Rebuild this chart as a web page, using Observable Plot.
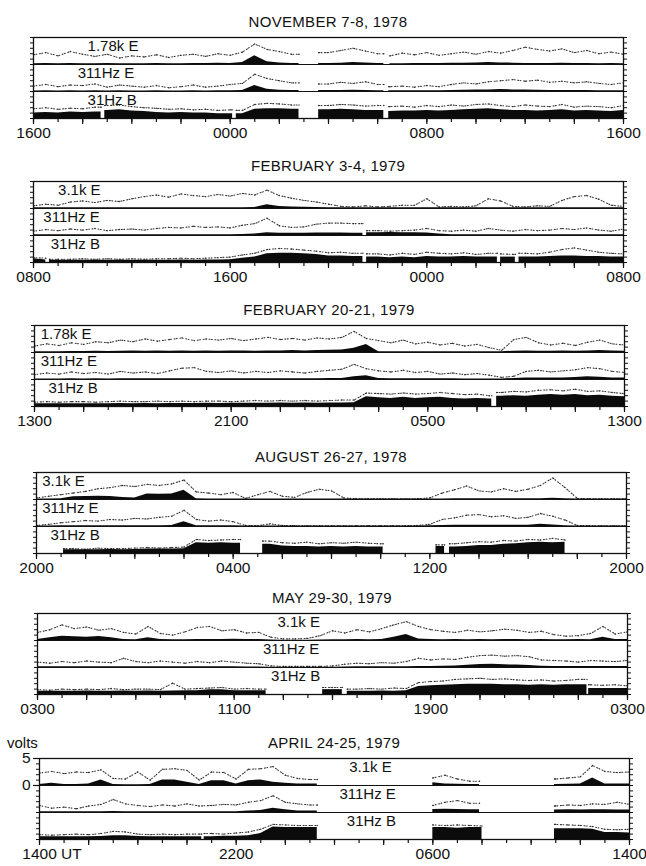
<!DOCTYPE html>
<html>
<head>
<meta charset="utf-8">
<script src="https://cdn.jsdelivr.net/npm/d3@7"></script>
<script src="https://cdn.jsdelivr.net/npm/@observablehq/plot@0.6"></script>
<style>
  body { margin: 0; background: #fff; }
  #page { position: relative; width: 646px; height: 866px; font-family: "Liberation Sans", Arial, Helvetica, sans-serif; color: #111; }
  .title { position: absolute; width: 590px; text-align: center; font-size: 15px; letter-spacing: 0.3px; line-height: 18px; }
  .panel { position: absolute; left: 0; }
  .units { position: absolute; left: 7px; font-size: 15px; line-height: 18px; }
</style>
</head>
<body>
<div id="page"></div>
<script>
// Each series holds one reading per half hour (49 samples over the 24-hour
// window, hour 0 = first axis label). Levels are in volts (0-5 per strip).
// "peak" = dotted upper trace, "mean" = solid black fill; null = no data.
// "cover" lists the [start, end] hours during which the channel recorded.

const titles = ["NOVEMBER 7-8, 1978", "FEBRUARY 3-4, 1979", "FEBRUARY 20-21, 1979",
                "AUGUST 26-27, 1978", "MAY 29-30, 1979", "APRIL 24-25, 1979"];

const channels_178 = ["1.78k E", "311Hz E", "31Hz B"];
const channels_31 = ["3.1k E", "311Hz E", "31Hz B"];

const nov78_ticks = ["1600", "0000", "0800", "1600"];
const feb79a_ticks = ["0800", "1600", "0000", "0800"];
const feb79b_ticks = ["1300", "2100", "0500", "1300"];
const aug78_ticks = ["2000", "0400", "1200", "2000"];
const may79_ticks = ["0300", "1100", "1900", "0300"];
const apr79_ticks = ["1400 UT", "2200", "0600", "1400"];

// ---- November 7-8, 1978 ----
const nov78_hiE_peak = [1.8,2.2,1.6,2.4,1.9, 1.5,1.9,1.2,1.6, 1.4,1.8,1.3,1.7, 1.9,1.5,2.0,1.7, 2.3,3.8,2.8,2.4,1.9, null,null, 2.2,2.6,3.0,2.5,2.0, 1.6,2.1,1.8,2.2, 1.7,2.0,2.3,1.9, 2.4,2.1,2.6,3.2, 2.8,2.5,2.9,2.2, 2.6,2.0,2.3,1.9];
const nov78_hiE_mean = [0.15,0.2,0.15,0.2,0.15, 0.15,0.2,0.15,0.15, 0.15,0.2,0.15,0.15, 0.2,0.2,0.25,0.2, 0.35,1.6,0.5,0.3,0.2, null,null, 0.2,0.25,0.35,0.3,0.2, 0.15,0.15,0.2,0.2, 0.2,0.25,0.25,0.3, 0.35,0.3,0.25,0.2, 0.2,0.2,0.25,0.2, 0.2,0.15,0.2,0.15];
const nov78_hiE_cover = [[0, 10.8], [11.6, 14.25], [14.5, 24]];
const nov78_midE_peak = [1.0,1.3,0.9,1.2,1.1, 1.4,0.8,1.2,1.0, 0.8,1.1,0.7,0.9, 1.2,0.8,1.0,1.3, 1.5,3.2,2.4,2.0,1.6, null,null, 1.4,1.7,1.5,1.8,1.3, 0.9,1.0,0.8,1.1, 0.9,1.3,1.6,1.4, 1.8,2.0,2.2,1.9, 2.1,1.7,1.9,1.6, 1.8,1.5,1.3,1.6];
const nov78_midE_mean = [0.1,0.12,0.1,0.12,0.1, 0.12,0.1,0.12,0.1, 0.1,0.12,0.1,0.1, 0.12,0.1,0.12,0.15, 0.2,1.1,0.4,0.25,0.2, null,null, 0.2,0.2,0.25,0.2,0.15, 0.12,0.12,0.15,0.15, 0.15,0.2,0.25,0.3, 0.3,0.35,0.3,0.3, 0.25,0.2,0.2,0.2, 0.2,0.15,0.15,0.12];
const nov78_midE_cover = [[0, 10.8], [11.6, 14.25], [14.45, 24]];
const nov78_B_peak = [1.8,2.0,1.7,1.9,1.8, 2.1,2.4,2.5,2.2, 2.0,1.9,1.7,1.8, 1.6,1.7,1.5,1.6, 1.5,2.6,2.8,2.7,2.5, null,null, 2.4,2.6,2.5,2.3,2.4, 2.2,2.3,2.1,2.4, 2.2,2.5,2.3,2.6, 2.7,2.4,2.2,2.5, 2.3,2.2,2.6,2.1, 2.3,2.2,2.0,2.4];
const nov78_B_mean = [1.0,1.1,1.0,1.2,1.1, 1.2,1.5,1.6,1.4, 1.3,1.1,1.0,1.1, 1.0,1.0,0.9,0.9, 0.9,1.7,1.8,1.8,1.7, null,null, 1.6,1.7,1.6,1.5,1.5, 1.3,1.4,1.4,1.5, 1.4,1.5,1.6,1.7, 1.8,1.6,1.5,1.5, 1.4,1.5,1.6,1.4, 1.5,1.4,1.3,1.5];
const nov78_B_cover = [[0, 2.75], [2.9, 8.1], [8.25, 10.8], [11.6, 14.25], [14.45, 24]];

// ---- February 3-4, 1979 ----
const feb79a_hiE_peak = [0.5,0.8,0.6,1.2,1.4, 1.1,1.5,1.3,1.8, 2.2,2.5,2.1,2.7, 2.4,2.2,2.6,2.3, 2.8,2.5,3.4,2.4,1.9, 1.5,1.2,0.8,0.4,0.3, 0.5,0.3,0.4,0.6, 0.6,1.8,0.3,0.4, 0.3,0.5,1.8,1.4, 0.4,0.3,0.5,0.4, 1.5,2.2,2.4,1.7, 0.6,0.4];
const feb79a_hiE_mean = [0.12,0.12,0.12,0.12,0.12, 0.12,0.12,0.12,0.15, 0.15,0.15,0.15,0.15, 0.15,0.15,0.15,0.15, 0.15,0.2,0.7,0.35,0.3, 0.25,0.2,0.15,0.12,0.12, 0.12,0.12,0.12,0.12, 0.12,0.15,0.12,0.12, 0.12,0.12,0.15,0.15, 0.12,0.12,0.12,0.12, 0.15,0.15,0.15,0.15, 0.12,0.12];
const feb79a_hiE_cover = [[0, 24]];
const feb79a_midE_peak = [0.8,1.1,0.9,1.2,1.0, 1.3,0.9,1.1,1.2, 1.0,1.3,1.5,1.4, 1.7,1.5,1.6,1.4, 1.9,2.2,3.2,1.8,1.5, 1.6,2.1,2.3,2.3,2.2, null,0.9,0.8,0.9, 1.0,1.3,0.9,0.8, 1.0,0.8,1.3,1.0, 0.8,1.1,0.9,1.0, 1.3,1.1,1.4,1.0, 0.8,1.2];
const feb79a_midE_mean = [0.12,0.12,0.12,0.12,0.12, 0.12,0.12,0.12,0.12, 0.12,0.12,0.12,0.12, 0.12,0.12,0.12,0.15, 0.2,0.3,0.5,0.4,0.4, 0.4,0.45,0.45,0.45,0.4, null,0.5,0.55,0.5, 0.5,0.45,0.3,0.15, 0.15,0.15,0.15,0.15, 0.15,0.15,0.15,0.15, 0.15,0.15,0.15,0.15, 0.15,0.15];
const feb79a_midE_cover = [[0, 13.4], [13.55, 24]];
const feb79a_B_peak = [0.9,0.8,0.6,0.6,0.7, 0.6,0.7,0.6,0.7, 0.6,0.7,0.7,0.8, 0.7,0.8,0.9,1.0, 1.4,1.7,2.4,2.6,2.5, 2.3,2.1,1.8,1.9,1.7, null,1.6,1.4,1.7, 1.5,1.9,1.7,1.6, 1.8,1.5,1.7,1.6, 1.5,1.7,1.6,1.9, 2.4,2.7,2.3,1.9, 1.7,1.6];
const feb79a_B_mean = [0.7,0.45,0.4,0.4,0.4, 0.4,0.4,0.4,0.4, 0.4,0.4,0.4,0.45, 0.4,0.45,0.45,0.5, 0.8,1.0,1.6,1.7,1.7, 1.6,1.5,1.2,1.2,1.1, null,1.0,0.9,1.0, 0.9,1.1,1.0,1.0, 1.1,1.0,1.0,1.0, 1.0,1.0,1.0,1.1, 1.2,1.2,1.1,1.1, 1.0,1.0];
const feb79a_B_cover = [[0, 0.5], [0.65, 13.4], [13.55, 18.87], [19.0, 19.6], [19.75, 24]];

// ---- February 20-21, 1979 ----
const feb79b_hiE_peak = [1.2,1.6,1.3,1.8,1.5, 2.0,1.8,2.3,2.0, 2.5,2.1,2.4,2.7, 2.2,2.5,2.3,2.6, 2.2,2.5,2.8,2.4,2.6, 2.3,2.7,2.5,2.8,3.9, 2.6,2.2,1.8,2.3, 1.6,1.9,1.4,1.7, 1.2,1.5,0.9,0.4, 2.4,2.8,1.8,1.4, 1.7,1.3,1.9,2.3, 1.6,1.4];
const feb79b_hiE_mean = [0.15,0.15,0.15,0.2,0.2, 0.25,0.2,0.25,0.3, 0.25,0.3,0.25,0.3, 0.25,0.3,0.25,0.3, 0.3,0.25,0.3,0.3,0.35, 0.3,0.35,0.4,0.45,0.8, 1.5,0.15,0.15,0.15, 0.15,0.15,0.15,0.15, 0.15,0.15,0.15,0.15, 0.25,0.3,0.25,0.25, 0.3,0.25,0.3,0.35, 0.3,0.25];
const feb79b_hiE_cover = [[0, 24]];
const feb79b_midE_peak = [0.9,1.2,1.0,1.4,1.1, 1.3,1.0,1.5,1.2, 1.4,1.1,1.6,2.1, 2.2,1.5,1.3,1.6, 1.2,1.5,1.3,1.6,1.4, 1.2,1.5,1.7,1.9,2.8, 2.0,1.6,1.4,1.7, 1.3,1.5,1.0,1.2, 0.9,1.1,0.8,0.4, 0.6,1.5,1.7,1.4, 1.6,1.8,2.2,2.0, 1.5,1.3];
const feb79b_midE_mean = [0.1,0.1,0.1,0.12,0.1, 0.12,0.1,0.12,0.12, 0.12,0.15,0.12,0.15, 0.15,0.12,0.15,0.15, 0.15,0.12,0.15,0.15,0.15, 0.15,0.15,0.2,0.2,0.5, 0.7,0.2,0.15,0.15, 0.12,0.12,0.12,0.12, 0.1,0.1,0.1,0.1, 0.2,0.3,0.3,0.3, 0.3,0.35,0.5,0.4, 0.3,0.3];
const feb79b_midE_cover = [[0, 24]];
const feb79b_B_peak = [0.8,0.9,0.8,0.9,0.9, 0.8,0.9,1.0,0.9, 0.9,1.0,0.9,1.0, 0.9,1.0,1.0,0.9, 1.0,1.1,1.0,1.1,1.0, 1.1,1.0,1.1,1.2,1.2, 2.5,2.4,2.3,2.5, 2.3,2.4,2.6,2.4, 2.2,2.3,2.0,2.6, 2.8,2.7,3.0,3.1, 2.9,3.2,2.8,2.9, 2.6,2.4];
const feb79b_B_mean = [0.5,0.5,0.5,0.5,0.5, 0.5,0.5,0.55,0.5, 0.55,0.5,0.55,0.55, 0.55,0.6,0.55,0.6, 0.6,0.6,0.6,0.65,0.6, 0.65,0.6,0.65,0.65,0.7, 1.8,1.6,1.5,1.7, 1.5,1.6,1.7,1.5, 1.4,1.5,1.4,1.9, 2.0,1.9,2.1,2.2, 2.1,2.2,2.0,2.1, 1.9,1.8];
const feb79b_B_cover = [[0, 18.6], [18.8, 24]];

// ---- August 26-27, 1978 ----
const aug78_hiE_peak = [0.3,0.6,0.9,1.2,1.5, 2.0,2.2,2.6,2.4, 2.8,2.6,2.9,3.6, 1.4,1.2,0.9,1.3, 0.2,0.9,1.5,0.6,0.4, 1.3,1.9,1.6,0.3,0.15, 0.15,0.15,0.15,0.15, 0.15,0.3,1.2,1.8, 2.5,1.6,1.4,2.0, 1.5,1.9,2.6,4.0, 2.2,0.2,0.15,0.15, 0.15,0.15];
const aug78_hiE_mean = [0.1,0.1,0.15,0.5,0.55, 0.6,0.55,0.35,0.3, 1.0,0.95,1.0,1.7, 0.15,0.1,0.1,0.1, 0.1,0.1,0.1,0.1,0.1, 0.1,0.1,0.1,0.1,0.1, 0.1,0.1,0.1,0.1, 0.1,0.1,0.1,0.12, 0.12,0.12,0.12,0.12, 0.12,0.12,0.15,0.25, 0.15,0.1,0.1,0.1, 0.1,0.1];
const aug78_hiE_cover = [[0, 24]];
const aug78_midE_peak = [0.2,0.4,0.7,0.9,1.1, 1.0,1.3,1.2,1.5, 1.4,1.7,1.9,3.0, 1.3,1.0,1.2,0.9, 0.2,0.15,0.5,0.2,0.15, 0.15,0.15,0.15,0.15,0.15, 0.15,0.15,0.15,0.15, 0.2,0.4,1.3,1.6, 2.1,2.2,1.8,2.0, 1.5,1.7,2.4,1.9, 1.2,0.2,0.15,0.15, 0.15,0.15];
const aug78_midE_mean = [0.1,0.1,0.12,0.15,0.15, 0.15,0.15,0.15,0.15, 0.15,0.15,0.2,0.9, 0.15,0.12,0.12,0.12, 0.1,0.1,0.1,0.1,0.1, 0.1,0.1,0.1,0.1,0.1, 0.1,0.1,0.1,0.1, 0.1,0.15,0.2,0.25, 0.25,0.25,0.25,0.25, 0.25,0.25,0.4,0.3, 0.15,0.1,0.1,0.1, 0.1,0.1];
const aug78_midE_cover = [[0, 24]];
const aug78_B_peak = [null,null,null,0.9,0.8, 1.0,0.9,0.9,1.0, 1.1,1.0,1.1,1.2, 2.6,2.4,2.5,2.6, null,null,2.3,2.0,1.9, 2.1,1.8,2.0,1.9,2.1, 1.9,1.8,null,null, null,null,1.6,1.8, 2.0,2.2,2.1,2.4, 2.3,2.6,2.5,2.8, 2.5,null,null,null, null,null];
const aug78_B_mean = [null,null,null,0.7,0.7, 0.7,0.75,0.7,0.75, 0.85,0.85,0.85,0.9, 2.0,1.9,2.0,1.9, null,null,1.7,1.4,1.3, 1.3,1.2,1.3,1.2,1.3, 1.2,1.2,null,null, null,null,1.3,1.2, 1.3,1.5,1.5,1.7, 1.8,2.0,2.1,2.0, 2.1,null,null,null, null,null];
const aug78_B_cover = [[1.1, 8.3], [9.2, 14.1], [16.25, 16.6], [16.8, 21.5]];

// ---- May 29-30, 1979 ----
const may79_hiE_peak = [1.5,2.0,2.9,2.2,2.5, 1.9,2.2,1.5,1.2, 2.6,1.3,1.0,1.6, 2.4,2.6,1.8,2.0, 1.4,1.5,0.6,0.3,0.3, 0.4,0.9,1.8,1.4,2.0, 1.6,2.2,2.9,3.5, 2.6,2.0,1.7,1.5, 1.9,1.6,1.8,2.1, 1.9,1.5,1.7,1.1, 0.8,0.9,1.3,2.6, 1.2,1.6];
const may79_hiE_mean = [0.2,0.5,0.8,0.7,0.6, 0.75,0.5,0.2,0.15, 0.5,0.2,0.15,0.15, 0.2,0.2,0.2,0.25, 0.2,0.2,0.1,0.05,0.05, 0.05,0.1,0.15,0.15,0.2, 0.15,0.2,0.6,1.1, 0.3,0.2,0.15,0.2, 0.15,0.2,0.15,0.2, 0.2,0.15,0.2,0.15, 0.15,0.2,0.15,0.6, 0.2,0.2];
const may79_hiE_cover = [[0, 24]];
const may79_midE_peak = [1.0,0.8,1.1,0.9,1.2, 1.0,0.9,1.7,1.1, 0.9,1.2,1.0,0.8, 1.1,0.9,1.2,1.0, 0.8,0.7,0.3,0.2,0.2, 0.2,0.2,0.3,0.6,0.8, 0.7,0.9,0.8,1.1, 1.7,1.4,1.6,1.5, 1.9,2.2,2.3,2.1, 2.2,2.0,1.4,1.3, 1.2,1.0,1.3,1.2, 1.1,1.3];
const may79_midE_mean = [0.12,0.12,0.12,0.12,0.12, 0.12,0.12,0.15,0.12, 0.12,0.12,0.12,0.12, 0.12,0.12,0.12,0.12, 0.1,0.1,0.05,0.05,0.05, 0.05,0.05,0.05,0.1,0.12, 0.12,0.15,0.15,0.15, 0.2,0.2,0.25,0.3, 0.4,0.55,0.6,0.5, 0.45,0.35,0.25,0.2, 0.2,0.2,0.2,0.2, 0.2,0.2];
const may79_midE_cover = [[0, 24]];
const may79_B_peak = [0.9,0.8,1.0,0.9,1.0, 0.9,1.1,0.9,1.0, 1.0,0.9,2.1,1.0, 1.1,1.2,1.3,1.0, 1.1,1.0,null,null,null, null,null,1.3,null,1.0, 1.1,1.0,1.2,1.1, 2.2,2.4,2.5,2.8, 2.9,3.0,2.8,2.9, 2.7,2.6,2.7,2.5, 2.6,2.8,1.8,1.7, 1.8,1.6];
const may79_B_mean = [0.6,0.6,0.6,0.6,0.65, 0.6,0.6,0.65,0.6, 0.65,0.6,0.65,0.7, 0.7,0.9,0.9,0.7, 0.7,0.7,null,null,null, null,null,0.9,null,0.6, 0.6,0.65,0.6,0.7, 1.5,1.6,1.7,1.8, 1.9,1.9,1.9,1.8, 1.8,1.7,1.8,1.7, 1.8,1.8,1.1,1.1, 1.1,1.1];
const may79_B_cover = [[0, 9.3], [11.6, 12.4], [12.6, 22.35], [22.42, 24]];

// ---- April 24-25, 1979 ----
const apr79_hiE_peak = [2.3,2.6,2.2,2.5,2.4, 2.9,1.3,1.2,2.5, 1.0,3.0,3.1,2.8, 1.0,2.5,2.4,1.2, 3.0,3.1,3.5,1.9,1.3, 1.1,null,null,null,null, null,null,null,null, null,1.4,1.9,1.2, 0.8,null,null,null, null,null,null,1.2, 1.4,1.6,3.7,2.6, 2.4,2.5];
const apr79_hiE_mean = [0.2,0.4,0.2,0.2,0.3, 1.0,0.2,0.15,0.15, 0.2,1.0,1.0,0.6, 0.2,0.9,0.9,0.3, 0.9,1.0,0.6,0.4,0.3, 0.3,null,null,null,null, null,null,null,null, null,0.5,0.3,0.25, 0.2,null,null,null, null,null,null,0.2, 0.25,0.3,1.4,0.3, 0.3,0.3];
const apr79_hiE_cover = [[0, 11.3], [16, 17.9], [20.95, 24]];
const apr79_midE_peak = [1.3,0.8,1.0,0.7,1.2, 1.5,2.4,1.6,1.3, 1.1,1.4,1.2,1.6, 1.2,1.3,1.5,1.4, 1.9,2.2,3.1,1.9,1.6, 1.4,null,null,null,null, null,null,null,null, null,1.3,1.9,2.2, 1.7,null,null,null, null,null,null,1.2, 1.4,1.3,1.6,1.5, 1.9,1.5];
const apr79_midE_mean = [0.15,0.15,0.15,0.15,0.15, 0.15,0.2,0.15,0.15, 0.15,0.15,0.15,0.15, 0.15,0.15,0.15,0.15, 0.3,0.35,0.8,0.5,0.3, 0.3,null,null,null,null, null,null,null,null, null,0.55,0.6,0.55, 0.5,null,null,null, null,null,null,0.45, 0.5,0.45,0.5,0.5, 0.45,0.45];
const apr79_midE_cover = [[0, 11.3], [16, 17.9], [20.95, 24]];
const apr79_B_peak = [0.9,0.8,0.9,1.0,0.9, 1.1,1.5,1.4,1.0, 0.9,1.0,0.9,1.0, 1.0,1.1,1.0,1.2, 1.4,1.9,2.8,2.7,2.6, 2.6,null,null,null,null, null,null,null,null, null,2.7,2.6,2.7, 2.6,2.5,null,null, null,null,null,2.8, 2.7,2.6,2.4,1.9, 1.8,1.9];
const apr79_B_mean = [0.5,0.5,0.5,0.5,0.5, 0.55,0.7,0.7,0.55, 0.5,0.5,0.5,0.5, 0.5,0.5,0.6,0.6, 0.7,1.1,2.3,2.2,2.2, 2.2,null,null,null,null, null,null,null,null, null,2.2,2.2,2.1, 2.2,2.2,null,null, null,null,null,2.0, 2.0,2.0,1.9,1.3, 1.3,1.2];
const apr79_B_cover = [[0, 6.6], [6.7, 11.3], [16, 18], [20.95, 24]];

// ---------------------------------------------------------------------------
const FONT = '"Liberation Sans", Arial, Helvetica, sans-serif';
const HALF_HOURS = d3.range(49).map(i => i / 2);
const STRIP = 5;          // volts per strip
const PLOT_W = 590;       // frame width in px
const STRIP_PX = 27;      // strip height in px
const M_TOP = 8, M_BOTTOM = 32;
const TICK_FONT = 15.5;

const panels = [
  {title: titles[0], names: channels_178, ticks: nov78_ticks, top: 37, left: 33, labelAt: [2.2, 1.8, 2.2],
   strips: [[nov78_hiE_peak, nov78_hiE_mean, nov78_hiE_cover], [nov78_midE_peak, nov78_midE_mean, nov78_midE_cover], [nov78_B_peak, nov78_B_mean, nov78_B_cover]]},
  {title: titles[1], names: channels_31, ticks: feb79a_ticks, top: 181, left: 33, labelAt: [1.0, 0.4, 0.7],
   strips: [[feb79a_hiE_peak, feb79a_hiE_mean, feb79a_hiE_cover], [feb79a_midE_peak, feb79a_midE_mean, feb79a_midE_cover], [feb79a_B_peak, feb79a_B_mean, feb79a_B_cover]]},
  {title: titles[2], names: channels_178, ticks: feb79b_ticks, top: 325, left: 34, labelAt: [0.25, 0.25, 0.57],
   strips: [[feb79b_hiE_peak, feb79b_hiE_mean, feb79b_hiE_cover], [feb79b_midE_peak, feb79b_midE_mean, feb79b_midE_cover], [feb79b_B_peak, feb79b_B_mean, feb79b_B_cover]]},
  {title: titles[3], names: channels_31, ticks: aug78_ticks, top: 472, left: 36, labelAt: [0.23, 0.23, 0.57],
   strips: [[aug78_hiE_peak, aug78_hiE_mean, aug78_hiE_cover], [aug78_midE_peak, aug78_midE_mean, aug78_midE_cover], [aug78_B_peak, aug78_B_mean, aug78_B_cover]]},
  {title: titles[4], names: channels_31, ticks: may79_ticks, top: 613, left: 37, labelAt: [9.76, 9.17, 9.5],
   strips: [[may79_hiE_peak, may79_hiE_mean, may79_hiE_cover], [may79_midE_peak, may79_midE_mean, may79_midE_cover], [may79_B_peak, may79_B_mean, may79_B_cover]]},
  {title: titles[5], names: channels_31, ticks: apr79_ticks, top: 758, left: 39, labelAt: [12.6, 12.2, 12.5], volts: true,
   strips: [[apr79_hiE_peak, apr79_hiE_mean, apr79_hiE_cover], [apr79_midE_peak, apr79_midE_mean, apr79_midE_cover], [apr79_B_peak, apr79_B_mean, apr79_B_cover]]}
];

// Turn one half-hourly series into plot rows, split at recording gaps; each
// covered interval is drawn out to its own start and end time.
function traceRows(values, cover, base) {
  const rows = [];
  cover.forEach(([t0, t1], seg) => {
    const pts = HALF_HOURS.map((t, i) => ({t, v: values[i]}))
      .filter(d => d.v != null && d.t >= t0 - 1e-9 && d.t <= t1 + 1e-9);
    if (!pts.length) return;
    const seq = [];
    if (pts[0].t > t0) seq.push({t: t0, v: pts[0].v});
    seq.push(...pts);
    const last = pts[pts.length - 1];
    if (last.t < t1) seq.push({t: t1, v: last.v});
    seq.forEach(d => rows.push({t: d.t, base, level: base + d.v, seg}));
  });
  return rows;
}

// width of the digits in a label such as "1400 UT", so the digits sit on the tick
const measureCtx = document.createElement("canvas").getContext("2d");
function textWidth(s, size) {
  measureCtx.font = `${size}px ${FONT}`;
  return measureCtx.measureText(s).width;
}

const page = document.getElementById("page");

panels.forEach(p => {
  const marks = [];
  p.strips.forEach(([peak, mean, cover], k) => {
    const base = (2 - k) * STRIP;
    const peakRows = traceRows(peak, cover, base);
    const meanRows = traceRows(mean, cover, base);
    marks.push(Plot.line(peakRows, {x: "t", y: "level", z: "seg", stroke: "#333", strokeWidth: 1.1, strokeDasharray: "1,1.5,0.8,2.6"}));
    marks.push(Plot.dot(peakRows, {x: "t", y: "level", r: 0.7, fill: "#333", stroke: "none"}));
    marks.push(Plot.areaY(meanRows, {x: "t", y1: "base", y2: "level", z: "seg", fill: "#0b0b0b"}));
  });

  // strip dividers and box
  marks.push(Plot.ruleY([STRIP, 2 * STRIP], {stroke: "#111", strokeWidth: 1}));
  marks.push(Plot.frame({stroke: "#111", strokeWidth: 1.3}));

  // channel names
  const labelRows = p.names.map((name, k) => ({name, t: p.labelAt[k], top: (3 - k) * STRIP}));
  marks.push(Plot.text(labelRows, {x: "t", y: "top", text: "name", textAnchor: "start", lineAnchor: "top", dy: 3, fontSize: 15, fill: "#111"}));

  // hour ticks along the bottom, volt ticks on both sides (marks only, no text)
  marks.push(Plot.axisX({ticks: d3.range(0, 25, 1), tickSize: 4, fill: "none", label: null, strokeWidth: 1.2}));
  marks.push(Plot.axisX({ticks: d3.range(0, 25, 2), tickSize: 6, fill: "none", label: null, strokeWidth: 1.2}));
  marks.push(Plot.axisY({anchor: "left", ticks: d3.range(0, 16), tickSize: 3, fill: "none", label: null, strokeWidth: 1}));
  marks.push(Plot.axisY({anchor: "right", ticks: d3.range(0, 16), tickSize: 3, fill: "none", label: null, strokeWidth: 1}));
  if (p.volts) {
    marks.push(Plot.axisY({anchor: "left", ticks: [2 * STRIP, 3 * STRIP], tickSize: 6, tickPadding: 3, label: null,
      tickFormat: d => String(d - 2 * STRIP), fontSize: 15.5, strokeWidth: 1.2}));
  }

  // time labels every 8 hours
  const tickRows = p.ticks.map((label, i) => ({t: i * 8, label}));
  const plain = tickRows.filter(d => !d.label.includes(" "));
  const suffixed = tickRows.filter(d => d.label.includes(" "));
  marks.push(Plot.text(plain, {x: "t", y: 0, text: "label", dy: 15, fontSize: TICK_FONT, fill: "#111"}));
  suffixed.forEach(d => {
    const whole = textWidth(d.label, TICK_FONT);
    const digits = textWidth(d.label.split(" ")[0], TICK_FONT);
    marks.push(Plot.text([d], {x: "t", y: 0, text: "label", dx: (whole - digits) / 2, dy: 15, fontSize: TICK_FONT, fill: "#111"}));
  });

  const chart = Plot.plot({
    width: 646,
    height: M_TOP + 3 * STRIP_PX + M_BOTTOM,
    marginTop: M_TOP,
    marginBottom: M_BOTTOM,
    marginLeft: p.left,
    marginRight: 646 - p.left - PLOT_W,
    x: {domain: [0, 24], axis: null},
    y: {domain: [0, 3 * STRIP], axis: null},
    style: {fontFamily: FONT, background: "transparent", color: "#111", overflow: "visible"},
    marks
  });
  chart.classList.add("panel");
  chart.style.top = (p.top - M_TOP) + "px";
  page.appendChild(chart);

  const t = document.createElement("div");
  t.className = "title";
  t.textContent = p.title;
  t.style.left = p.left + "px";
  t.style.top = (p.top - 24) + "px";
  page.appendChild(t);

  if (p.volts) {
    const u = document.createElement("div");
    u.className = "units";
    u.textContent = "volts";
    u.style.top = (p.top - 24) + "px";
    page.appendChild(u);
  }
});
</script>
</body>
</html>
